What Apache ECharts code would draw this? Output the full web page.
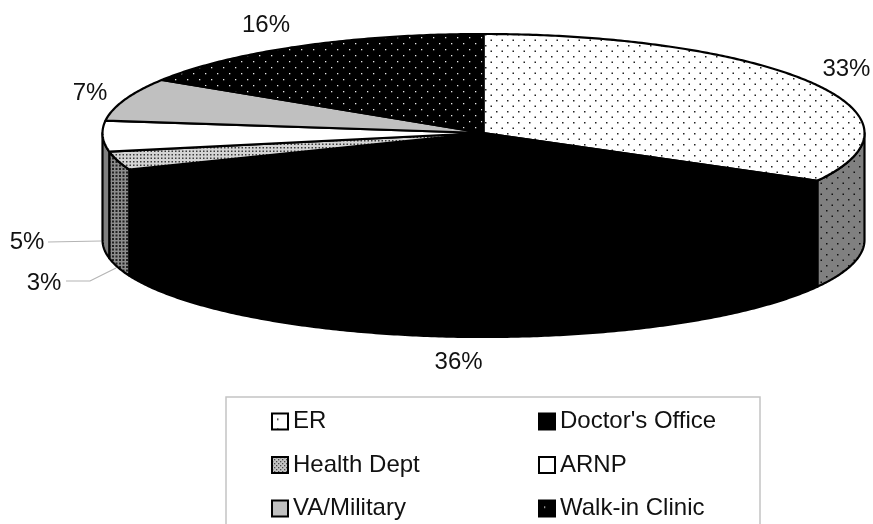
<!DOCTYPE html>
<html>
<head>
<meta charset="utf-8">
<style>html,body{margin:0;padding:0;background:#fff}#c{width:873px;height:524px}</style>
<script src="https://cdn.jsdelivr.net/npm/echarts@6/dist/echarts.min.js"></script>
</head>
<body>
<div id="c"></div>
<script>
const categories = ["ER", "Doctor's Office", "Health Dept", "ARNP", "VA/Military", "Walk-in Clinic"];
const shares = [33, 36, 3, 5, 7, 16];
const percentLabels = ["33%", "36%", "3%", "5%", "7%", "16%"];

// ---- drawing helpers (styles and layout, not data) ----
function tile(size, bg, dots, color, r) {
  const c = document.createElement('canvas');
  c.width = c.height = size;
  const g = c.getContext('2d');
  g.fillStyle = bg; g.fillRect(0, 0, size, size);
  g.fillStyle = color;
  dots.forEach(d => g.fillRect(d[0], d[1], r, r));
  return { image: c, repeat: 'repeat' };
}
const stagger = s => [[1, 1], [1 + s / 2, 1 + s / 2]];
const topFill = [
  tile(11, '#ffffff', stagger(11), '#222222', 1.5),
  '#000000',
  tile(7, '#d4d4d4', [[0, 0], [3.5, 3.5], [3.5, 0], [0, 3.5]], '#3c3c3c', 1.5),
  '#ffffff',
  '#c0c0c0',
  tile(12, '#000000', stagger(12), '#e8e8e8', 1.3)
];
const sideFill = [
  tile(11, '#808080', stagger(11), '#111111', 1.5),
  '#000000',
  tile(7, '#8c8c8c', [[0, 0], [3.5, 3.5], [3.5, 0], [0, 3.5]], '#202020', 2),
  '#808080',
  '#808080',
  '#808080'
];
const legendFill = [
  tile(10, '#ffffff', [[5, 5]], '#111111', 1.5),
  '#000000',
  tile(4, '#c4c4c4', [[0, 0], [2, 2]], '#4a4a4a', 1.3),
  '#ffffff',
  '#c0c0c0',
  tile(12, '#000000', [[5, 6]], '#dddddd', 1.3)
];
const labelOffset = [[35, -13], [-1, 26], [0, 0], [0, 0], [-35, -6], [-34, -21]];
const labelAnchor = [null, null, [44, 283], [27, 242], null, null];
const leaderPath = [null, null, [[66, 281], [90, 281], [116, 268]], [[48, 242], [101, 241]], null, null];

// Unit-ellipse coordinates in the axis scale: top face y in [-1,1]
const faceDepth = 1.08;      // side height in y-axis units
const bottomSquash = 0.98;

const starts = shares.map((_, i) => shares.slice(0, i).reduce((a, b) => a + b, 0));
const total = shares.reduce((a, b) => a + b, 0);

function arc(a0, a1, ofs, sq, api) {
  const pts = [];
  const n = Math.max(2, Math.ceil(Math.abs(a1 - a0) / 0.01));
  for (let k = 0; k <= n; k++) {
    const t = a0 + (a1 - a0) * k / n;
    pts.push(api.coord([Math.sin(t), Math.cos(t) * sq - ofs]));
  }
  return pts;
}
function renderSlice(params, api) {
  const idx = params.seriesIndex;
  const s = api.value(0), v = api.value(1);
  const a0 = s / total * 2 * Math.PI, a1 = (s + v) / total * 2 * Math.PI;
  const kids = [];
  const strokeStyle = { stroke: '#000', lineWidth: 2.2, lineJoin: 'round' };
  const f0 = Math.max(a0, Math.PI / 2), f1 = Math.min(a1, Math.PI * 1.5);
  if (f1 > f0) {
    const pts = arc(f0, f1, 0, 1, api).concat(arc(f1, f0, faceDepth, bottomSquash, api));
    kids.push({ type: 'polygon', shape: { points: pts }, style: Object.assign({ fill: sideFill[idx] }, strokeStyle) });
  }
  const centre = api.coord([0, 0]);
  kids.push({ type: 'polygon', shape: { points: [centre].concat(arc(a0, a1, 0, 1, api)) },
    style: Object.assign({ fill: topFill[idx] }, strokeStyle) });
  // label
  let lx, ly;
  if (labelAnchor[idx]) { lx = labelAnchor[idx][0]; ly = labelAnchor[idx][1]; }
  else {
    const m = (a0 + a1) / 2;
    const front = Math.cos(m) < 0;
    const p = api.coord([Math.sin(m), Math.cos(m) * (front ? bottomSquash : 1) - (front ? faceDepth : 0)]);
    lx = p[0] + labelOffset[idx][0]; ly = p[1] + labelOffset[idx][1];
    if (idx === 0) { const q = api.coord([Math.sin(m), Math.cos(m)]); lx = q[0] + labelOffset[idx][0]; ly = q[1] + labelOffset[idx][1]; }
  }
  kids.push({ type: 'text', z2: 10, style: { text: percentLabels[idx], x: lx, y: ly, fill: '#111', align: 'center', verticalAlign: 'middle',
    font: '24px "Liberation Sans", Arial, sans-serif' } });
  if (leaderPath[idx]) {
    kids.push({ type: 'polyline', z2: 9, shape: { points: leaderPath[idx] }, style: { stroke: '#b4b4b4', lineWidth: 1.2, fill: null } });
  }
  return { type: 'group', children: kids };
}

const series = categories.map((name, i) => ({
  name, type: 'custom', coordinateSystem: 'cartesian2d', renderItem: renderSlice, clip: false, silent: true,
  encode: { x: 0, y: 1 },
  itemStyle: { color: legendFill[i], borderColor: '#000', borderWidth: 2 },
  data: [[starts[i], shares[i]]]
}));

const legendBase = {
  orient: 'vertical', icon: 'rect', itemWidth: 16, itemHeight: 16, itemGap: 19.5, selectedMode: false, padding: 0,
  textStyle: { fontFamily: '"Liberation Sans", Arial, sans-serif', fontSize: 24, color: '#111', lineHeight: 24 }
};
const legendItem = i => ({ name: categories[i], itemStyle: { color: legendFill[i], borderColor: '#000', borderWidth: 2 } });

const chart = echarts.init(document.getElementById('c'), null, { renderer: 'canvas' });
chart.setOption({
  animation: false,
  backgroundColor: '#fff',
  grid: { left: 102.5, width: 762, top: 34, height: 303 },
  xAxis: { type: 'value', min: -1, max: 1, show: false },
  yAxis: { type: 'value', min: -2.06, max: 1, show: false },
  legend: [
    Object.assign({}, legendBase, { left: 271, top: 409.5, data: [0, 2, 4].map(legendItem) }),
    Object.assign({}, legendBase, { left: 538, top: 409.5, data: [1, 3, 5].map(legendItem) })
  ],
  graphic: [{
    type: 'polyline', silent: true,
    shape: { points: [[226, 530], [226, 397], [760, 397], [760, 530]] },
    style: { stroke: '#c4c4c4', lineWidth: 1.5, fill: null }
  }],
  series
});
</script>
</body>
</html>
